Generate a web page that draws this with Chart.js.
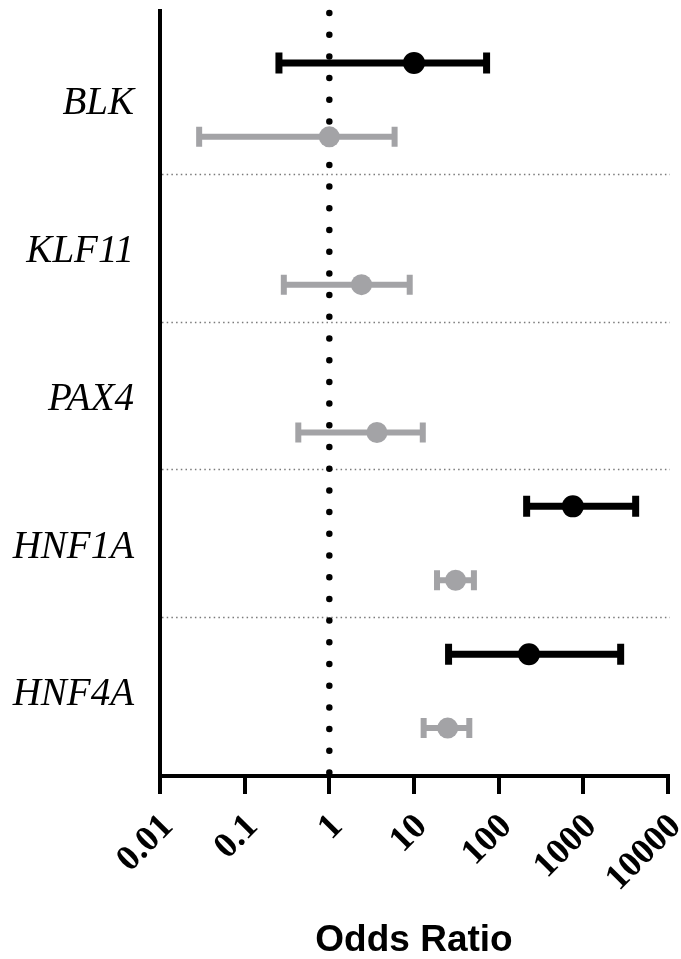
<!DOCTYPE html>
<html>
<head>
<meta charset="utf-8">
<script src="https://cdn.jsdelivr.net/npm/chart.js@4.4.1/dist/chart.umd.min.js"></script>
<style>
  html, body { margin: 0; padding: 0; background: #fff; }
  #wrap { width: 681px; height: 959px; }
</style>
</head>
<body>
<div id="wrap"><canvas id="orChart" width="681" height="959"></canvas></div>
<script>
const genes = ['BLK', 'KLF11', 'PAX4', 'HNF1A', 'HNF4A'];
const xTicks = [0.01, 0.1, 1, 10, 100, 1000, 10000];

// black series (null = no estimate)
const blackOR = [10, null, null, 752, 228];
const blackLo = [0.254, null, null, 214, 25.6];
const blackHi = [72, null, null, 4150, 2760];

// grey series
const greyOR = [1, 2.4, 3.65, 31, 25];
const greyLo = [0.029, 0.29, 0.43, 18.7, 13];
const greyHi = [5.9, 8.9, 12.7, 51, 45];

const black = '#000000';
const grey = '#a3a3a6';

function rows(or, lo, hi, off) {
  const out = [];
  or.forEach((v, i) => {
    if (v != null) out.push({ x: v, y: i + off, lo: lo[i], hi: hi[i] });
  });
  return out;
}

const ctx = document.getElementById('orChart');

const refLine = {
  id: 'refLine',
  beforeDatasetsDraw(chart) {
    const c = chart.ctx, xs = chart.scales.x, ys = chart.scales.y;
    const area = chart.chartArea;
    c.save();
    // band separators
    c.strokeStyle = '#7a7a7a';
    c.lineWidth = 1.5;
    c.setLineDash([1.5, 3.2]);
    for (let i = 1; i < genes.length; i++) {
      const py = Math.round(ys.getPixelForValue(i)) + 0.5;
      c.beginPath();
      c.moveTo(area.left + 2, py);
      c.lineTo(area.right + 2, py);
      c.stroke();
    }
    // OR = 1 dotted line
    const px = xs.getPixelForValue(1);
    c.strokeStyle = '#000';
    c.lineWidth = 6.5;
    c.lineCap = 'round';
    c.setLineDash([0, 21.7]);
    c.beginPath();
    c.moveTo(px, area.top + 2);
    c.lineTo(px, area.bottom - 2);
    c.stroke();
    c.restore();

    // error bars
    chart.data.datasets.forEach(ds => {
      c.save();
      c.strokeStyle = ds.borderColor;
      c.lineWidth = ds.barWidth;
      c.lineCap = 'butt';
      ds.data.forEach(d => {
        const y = ys.getPixelForValue(d.y);
        const x1 = xs.getPixelForValue(d.lo), x2 = xs.getPixelForValue(d.hi);
        const h = ds.capHeight / 2;
        c.beginPath();
        c.moveTo(x1, y); c.lineTo(x2, y);
        c.moveTo(x1, y - h); c.lineTo(x1, y + h);
        c.moveTo(x2, y - h); c.lineTo(x2, y + h);
        c.stroke();
      });
      c.restore();
    });
  }
};

new Chart(ctx, {
  type: 'scatter',
  data: {
    datasets: [
      {
        data: rows(blackOR, blackLo, blackHi, 0.25),
        backgroundColor: black,
        borderColor: black,
        pointRadius: 11,
        pointBorderWidth: 0,
        barWidth: 7,
        capHeight: 21
      },
      {
        data: rows(greyOR, greyLo, greyHi, 0.75),
        backgroundColor: grey,
        borderColor: grey,
        pointRadius: 10.5,
        pointBorderWidth: 0,
        barWidth: 6,
        capHeight: 20
      }
    ]
  },
  options: {
    responsive: false,
    animation: false,
    layout: { padding: { top: 10, right: 13, left: 0, bottom: 0 } },
    scales: {
      x: {
        type: 'logarithmic',
        min: 0.01,
        max: 10000,
        afterBuildTicks: s => { s.ticks = xTicks.map(v => ({ value: v })); },
        afterFit: s => { s.height = 183; s.paddingLeft = 0; s.paddingRight = 0; },
        grid: {
          drawOnChartArea: false,
          color: '#000',
          lineWidth: 4,
          tickLength: 18
        },
        border: { color: '#000', width: 4 },
        ticks: {
          autoSkip: false,
          minRotation: 45,
          maxRotation: 45,
          padding: 12,
          labelOffset: 8,
          color: '#000',
          font: { family: 'Liberation Serif', size: 36, weight: 'bold' },
          callback: v => String(v)
        },
        title: {
          display: true,
          text: 'Odds Ratio',
          color: '#000',
          font: { family: 'Liberation Sans', size: 37, weight: 'bold', lineHeight: 1 },
          padding: { top: 0, bottom: 0 }
        }
      },
      y: {
        type: 'linear',
        reverse: true,
        min: -0.101,
        max: 5.074,
        afterBuildTicks: s => { s.ticks = genes.map((g, i) => ({ value: i + 0.5 })); },
        afterFit: s => { s.width = 160; s.paddingTop = 0; s.paddingBottom = 0; },
        grid: { drawOnChartArea: false, drawTicks: false },
        border: { color: '#000', width: 4 },
        ticks: {
          padding: 26,
          labelOffset: 4,
          color: '#000',
          font: { family: 'Liberation Serif', size: 39, style: 'italic' },
          callback: v => genes[Math.round(v - 0.5)]
        }
      }
    },
    plugins: {
      legend: { display: false },
      tooltip: { enabled: false }
    }
  },
  plugins: [refLine]
});
</script>
</body>
</html>
